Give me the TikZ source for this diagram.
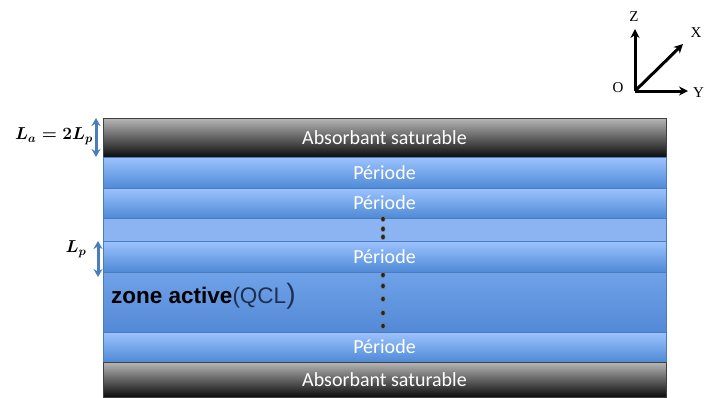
\documentclass[tikz,border=0pt]{standalone}
\usepackage{fontspec}
\usetikzlibrary{arrows.meta, positioning, calc}
\newfontfamily\calibfont{Carlito}
\newfontfamily\arialfont{Liberation Sans}
\newfontfamily\axfont{Liberation Serif}
\definecolor{perhaut}{HTML}{9DC3FF}
\definecolor{perbas}{HTML}{4F8AD6}
\definecolor{perbord}{HTML}{4A7CC0}
\definecolor{interc}{HTML}{8DB4F2}
\definecolor{zonehaut}{HTML}{6FA2E8}
\definecolor{zonebas}{HTML}{5489D6}
\definecolor{flecheb}{HTML}{4A7EBB}
\definecolor{qcl}{HTML}{1F2F4F}

\begin{document}
\begin{tikzpicture}[
  x=1pt, y=-1pt,
  couche/.style={rectangle, minimum width=563pt, inner sep=0pt, outer sep=0pt,
    font=\calibfont\fontsize{20}{22}\selectfont, text=white},
  absorb/.style={couche, draw=black!75, line width=0.8pt,
    top color=black!28, bottom color=black!95},
  periode/.style={couche, draw=perbord, line width=0.6pt,
    top color=perhaut, bottom color=perbas},
  epais/.style={<->, >={Stealth[length=8pt, width=9pt]}, draw=flecheb, line width=3pt},
  axe/.style={->, >={Stealth[length=9pt, width=9pt]}, line width=3pt},
  point/.style={fill=black!85, draw=black!45, line width=0.4pt}
]
  \useasboundingbox (0,0) rectangle (705,397);

  % Empilement des couches
  \node[absorb, minimum height=39pt] (abshaut) at (384.5,137.5) {Absorbant saturable};
  \node[periode, minimum height=31pt] (per1) at (384.5,172.5) {Période};
  \node[periode, minimum height=30pt] (per2) at (384.5,203) {Période};
  \node[couche, fill=interc, draw=perbord, line width=0.6pt, minimum height=23pt] (inter) at (384.5,229.5) {};
  \node[periode, minimum height=31pt] (per3) at (384.5,256.5) {Période};
  \node[couche, draw=perbord, line width=0.6pt, top color=zonehaut, bottom color=zonebas,
    minimum height=60pt] (zone) at (384.5,302) {};
  \node[periode, minimum height=30pt] (per4) at (384.5,347) {Période};
  \node[absorb, minimum height=35pt] (absbas) at (384.5,379.5) {Absorbant saturable};

  \node[anchor=west, inner sep=0pt] (zlab) at (111,296)
    {\arialfont\fontsize{22.5}{24}\selectfont\textbf{zone active}\textcolor{qcl}{(QCL{\fontsize{28}{28}\selectfont)}}};

  % points de suspension
  \foreach \yy in {219,229,237,275,286,299,313,326}
    \path[point] (383,\yy) ellipse (2.2pt and 2.8pt);

  % epaisseurs
  \draw[epais] ([xshift=-7pt]abshaut.north west) -- ([xshift=-7pt]abshaut.south west);
  \draw[epais] ([xshift=-5pt]per3.north west) -- ([xshift=-5pt,yshift=-5pt]per3.south west);
  \node[inner sep=0pt, font=\fontsize{17.5}{20}\selectfont\boldmath] (la) at (54,136) {$L_a = 2L_p$};
  \node[inner sep=0pt, font=\fontsize{17.5}{20}\selectfont\boldmath] (lp) at (76,249) {$L_p$};

  % repere
  \coordinate (O) at (635,91);
  \coordinate (Zb) at (635,29);
  \coordinate (Xb) at (683,44);
  \coordinate (Yb) at (688,91);
  \draw[axe] (O) -- (Zb);
  \draw[axe] (O) -- (Xb);
  \draw[axe] (O) -- (Yb);
  \node[font=\axfont\fontsize{15}{16}\selectfont, inner sep=0pt] (lz) at (634,17) {Z};
  \node[font=\axfont\fontsize{15}{16}\selectfont, inner sep=0pt] (lx) at (696,33) {X};
  \node[font=\axfont\fontsize{15}{16}\selectfont, inner sep=0pt] (lo) at (618,88) {O};
  \node[font=\axfont\fontsize{15}{16}\selectfont, inner sep=0pt, anchor=west] (ly) at (693,93) {Y};
\end{tikzpicture}
\end{document}
